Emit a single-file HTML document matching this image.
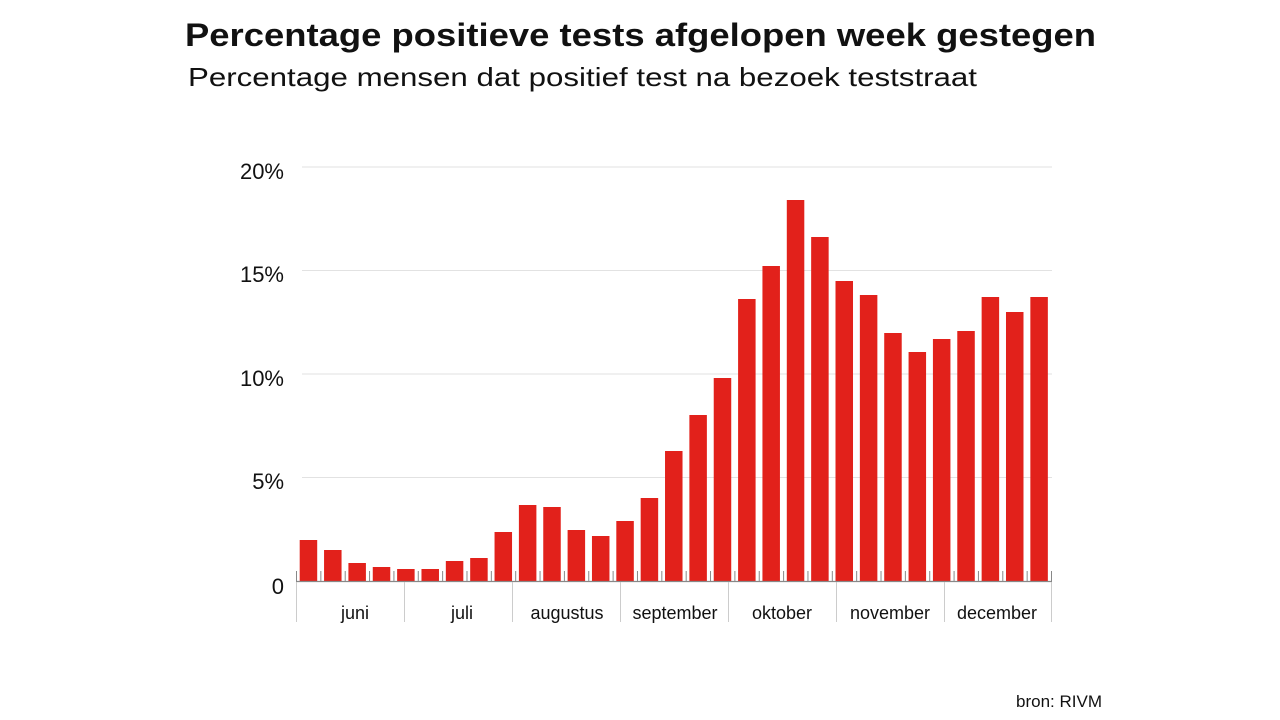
<!DOCTYPE html>
<html><head><meta charset="utf-8"><style>html,body{margin:0;padding:0;background:#fff}svg{display:block}</style></head>
<body>
<svg width="1280" height="720" viewBox="0 0 1280 720" xmlns="http://www.w3.org/2000/svg" font-family="Liberation Sans, sans-serif">
<rect width="1280" height="720" fill="#fff"/>
<text x="185" y="46" font-size="32" font-weight="bold" fill="#111" textLength="911" lengthAdjust="spacingAndGlyphs">Percentage positieve tests afgelopen week gestegen</text>
<text x="188" y="86" font-size="26" fill="#111" textLength="789" lengthAdjust="spacingAndGlyphs">Percentage mensen dat positief test na bezoek teststraat</text>
<g stroke="#e2e2e2" stroke-width="1">
<line x1="302" y1="167" x2="1052" y2="167"/>
<line x1="302" y1="270.5" x2="1052" y2="270.5"/>
<line x1="302" y1="374" x2="1052" y2="374"/>
<line x1="302" y1="477.5" x2="1052" y2="477.5"/>
</g>
<g font-size="22" fill="#111" text-anchor="end">
<text x="284" y="179">20%</text>
<text x="284" y="282">15%</text>
<text x="284" y="386">10%</text>
<text x="284" y="489">5%</text>
<text x="284" y="594">0</text>
</g>
<g stroke="#888" stroke-width="1" id="ticks"></g>
<g fill="#e2211b" id="bars"></g>
<line x1="296" y1="581.5" x2="1052" y2="581.5" stroke="#888" stroke-width="1.2"/>
<g stroke="#ccc" stroke-width="1">
<line x1="296.5" y1="582" x2="296.5" y2="622"/>
<line x1="404.5" y1="582" x2="404.5" y2="622"/>
<line x1="512.5" y1="582" x2="512.5" y2="622"/>
<line x1="620.5" y1="582" x2="620.5" y2="622"/>
<line x1="728.5" y1="582" x2="728.5" y2="622"/>
<line x1="836.5" y1="582" x2="836.5" y2="622"/>
<line x1="944.5" y1="582" x2="944.5" y2="622"/>
<line x1="1051.5" y1="582" x2="1051.5" y2="622"/>
</g>
<g font-size="18" fill="#111" text-anchor="middle">
<text x="355" y="619">juni</text>
<text x="462" y="619">juli</text>
<text x="567" y="619">augustus</text>
<text x="675" y="619">september</text>
<text x="782" y="619">oktober</text>
<text x="890" y="619">november</text>
<text x="997" y="619">december</text>
</g>
<text x="1102" y="707" font-size="17" fill="#111" text-anchor="end">bron: RIVM</text>
<script>
var tops=[540,550,563,567,569,569,561,558,532,505,507,530,536,521,498,451,415,378,299,266,200,237,281,295,333,352,339,331,297,312,297];
var b=document.getElementById('bars'),t=document.getElementById('ticks'),ns='http://www.w3.org/2000/svg';
var p=(1051-296)/31;
for(var i=0;i<31;i++){var x=296+i*p+3.7;var r=document.createElementNS(ns,'rect');r.setAttribute('x',x);r.setAttribute('y',tops[i]);r.setAttribute('width',17.5);r.setAttribute('height',581-tops[i]);b.appendChild(r);}
for(var i=0;i<=31;i++){var x=296.5+i*p;var l=document.createElementNS(ns,'line');l.setAttribute('x1',x);l.setAttribute('x2',x);l.setAttribute('y1',571);l.setAttribute('y2',581);t.appendChild(l);}
</script>
</svg>
</body></html>
